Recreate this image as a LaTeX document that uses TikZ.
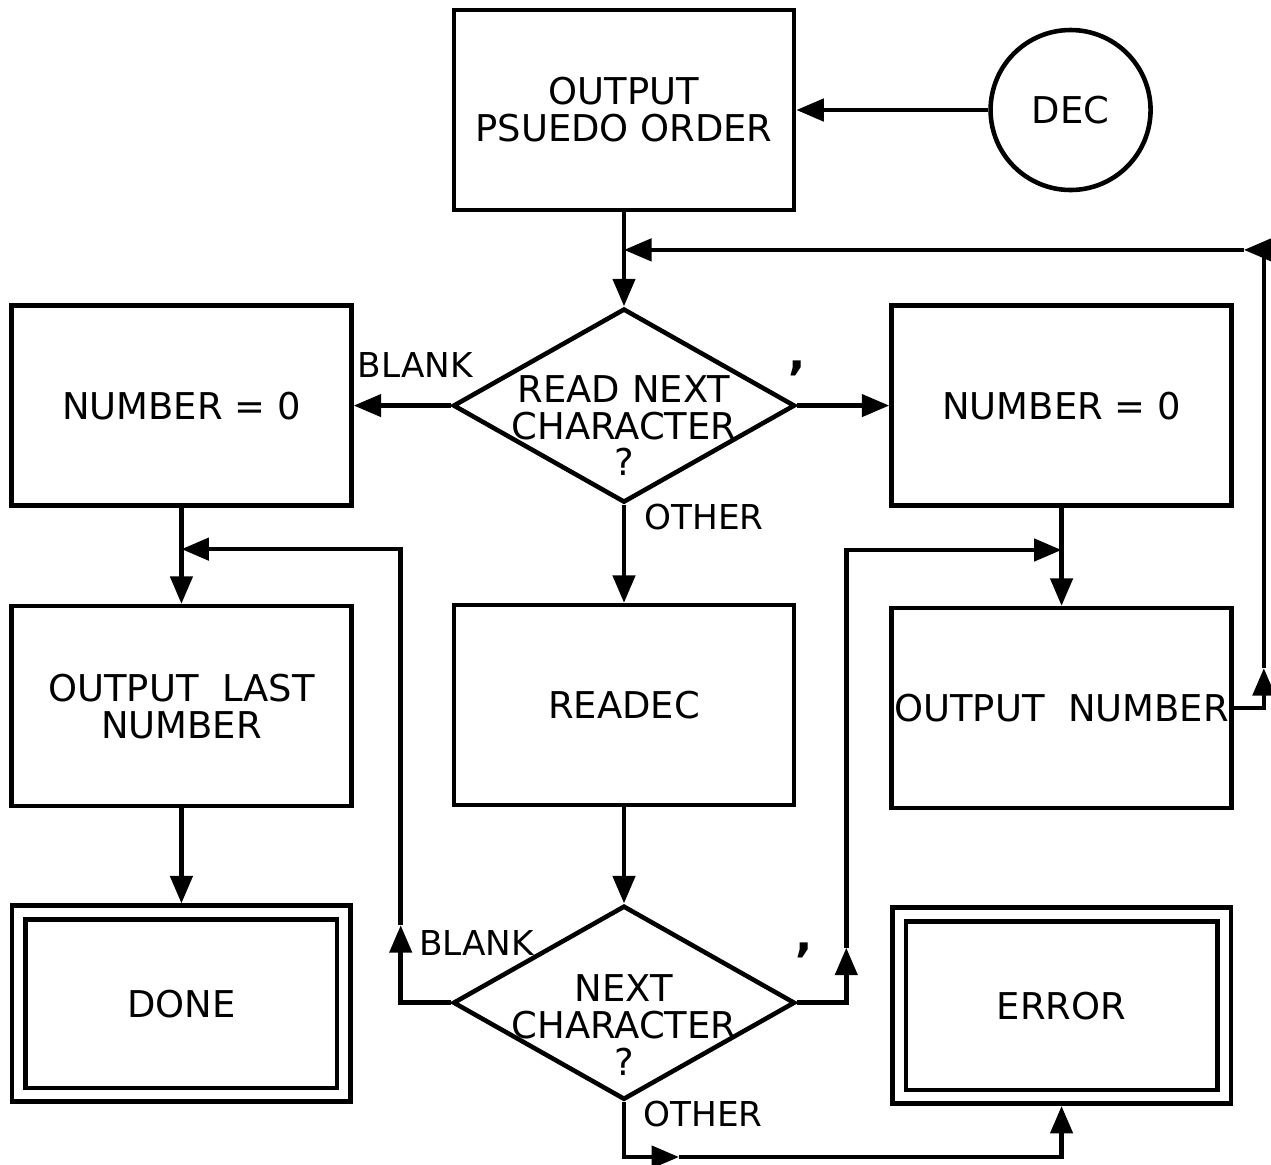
\documentclass[tikz,border=0pt]{standalone}
\usepackage{fontspec}
\setmainfont{DejaVu Sans}
\usepackage{tikz}
\usetikzlibrary{arrows.meta,positioning,calc,shapes.geometric}
\newcommand{\boxfont}{\fontsize{21}{21}\selectfont}
\newcommand{\tagfont}{\fontsize{19.5}{19.5}\selectfont}
\tikzset{
    every picture/.style={line join=miter},
    procbox/.style={draw,line width=2.6pt,minimum width=6.8cm,minimum height=4cm,
      inner sep=0pt,outer sep=1.3pt,font=\boxfont,align=center},
    stopbox/.style={procbox,double,double distance=1.8mm,minimum width=6.5cm,
      minimum height=3.65cm,outer sep=1.8mm},
    testnode/.style={draw,diamond,line width=2.6pt,minimum width=6.84cm,
      minimum height=3.88cm,inner sep=0pt,outer sep=1.3pt},
    testtext/.style={font=\boxfont,align=center,inner sep=0pt},
    connector/.style={draw,circle,line width=2.6pt,minimum size=3.2cm,
      inner sep=0pt,outer sep=1.3pt,font=\boxfont},
    flowarrow/.style={-{Triangle[length=5.5mm,width=4.4mm]},line width=2.6pt},
    branchlabel/.style={font=\tagfont,inner sep=0pt},
    commalabel/.style={font=\fontsize{26}{26}\selectfont\bfseries,inner sep=0pt}
}

\begin{document}
\begin{tikzpicture}
    \useasboundingbox (0,0) rectangle (25.42,-23.28);
    \node[procbox] (order) at (12.48,-2.2) {OUTPUT\\PSUEDO ORDER};
    \node[connector,right=3.84cm of order] (dec) {DEC};
    \node[testnode,below=1.88cm of order] (readnext) {};
    \node[testtext] (readnext-txt) at ($(readnext)+(0,-0.4)$) {READ NEXT\\CHARACTER\\?};
    \node[procbox,left=1.94cm of readnext] (zeroL) {NUMBER = 0};
    \node[procbox,right=1.84cm of readnext] (zeroR) {NUMBER = 0};
    \node[procbox,below=1.96cm of readnext] (readec) {READEC};
    \node[procbox,below=1.92cm of zeroL] (lastnum) {OUTPUT\ \ LAST\\NUMBER};
    \node[procbox,below=1.96cm of zeroR] (outnum) {OUTPUT\ \ NUMBER};
    \node[stopbox,below=1.9cm of lastnum] (done) {DONE};
    \node[stopbox,below=1.9cm of outnum] (error) {ERROR};
    \node[testnode,below=1.92cm of readec] (nextchar) {};
    \node[testtext] (nextchar-txt) at ($(nextchar)+(0,-0.45)$) {NEXT\\CHARACTER\\?};

    \node[branchlabel,anchor=south east] (blank1) at ($(readnext.west)+(0.45,0.55)$) {BLANK};
    \node[commalabel] (comma1) at ($(readnext.east)+(0,0.75)$) {,};
    \node[branchlabel,anchor=west] (other1) at ($(readnext.south)+(0.4,-0.24)$) {OTHER};
    \node[branchlabel,anchor=west] (blank2) at ($(nextchar.west)+(-0.64,1.2)$) {BLANK};
    \node[commalabel] (comma2) at ($(nextchar.east)+(0.14,1.05)$) {,};
    \node[branchlabel,anchor=west] (other2) at ($(nextchar.south)+(0.38,-0.24)$) {OTHER};

    \coordinate (jtop) at ($(order.south)!0.4!(readnext.north)$);
    \coordinate (jleft) at ($(zeroL.south)!0.43!(lastnum.north)$);
    \coordinate (jright) at ($(zeroR.south)!0.43!(outnum.north)$);
    \coordinate (rise) at ($(outnum.east)+(0.6,0.8)$);
    \coordinate (turn) at ($(jtop -| rise)+(-0.4,0)$);
    \coordinate (bkup) at ($(nextchar.west)+(-1,1.55)$);
    \coordinate (fwup) at ($(nextchar.east)+(0.98,1.1)$);
    \coordinate (lowrun) at ($(nextchar.south)+(1.1,-1.1)$);

    \draw[flowarrow] (dec) -- (order);
    \draw[flowarrow] (order.south) -- (readnext.north);
    \draw[flowarrow] (readnext.west) -- (zeroL.east);
    \draw[flowarrow] (readnext.east) -- (zeroR.west);
    \draw[flowarrow] (readnext.south) -- (readec.north);
    \draw[flowarrow] (zeroL.south) -- (lastnum.north);
    \draw[flowarrow] (lastnum.south) -- (done.north);
    \draw[flowarrow] (zeroR.south) -- (outnum.north);
    \draw[flowarrow] (readec.south) -- (nextchar.north);

    \draw[flowarrow] (outnum.east) -| (rise);
    \draw[flowarrow] (rise) |- (turn);
    \draw[flowarrow] (turn) -- (jtop);
    \draw[flowarrow] (nextchar.west) -| (bkup);
    \draw[flowarrow] (bkup) |- (jleft);
    \draw[flowarrow] (nextchar.east) -| (fwup);
    \draw[flowarrow] (fwup) |- (jright);
    \draw[flowarrow] (nextchar.south) |- (lowrun);
    \draw[flowarrow] (lowrun) -| (error.south);
\end{tikzpicture}
\end{document}
